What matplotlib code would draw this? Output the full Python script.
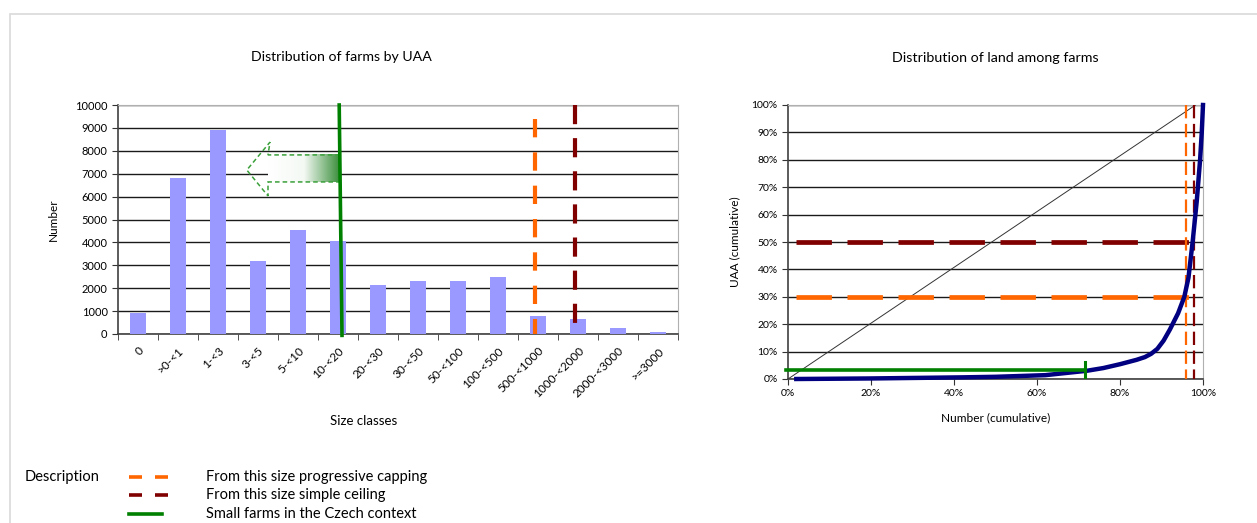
import numpy as np
import matplotlib.pyplot as plt
from matplotlib.colors import LinearSegmentedColormap
from matplotlib.patches import Polygon, Rectangle
from matplotlib.lines import Line2D

plt.rcParams['font.family'] = ['Lato', 'DejaVu Sans']

# left chart: number of farms per size class
size_classes = ['0', '>0-<1', '1-<3', '3-<5', '5-<10', '10-<20', '20-<30', '30-<50',
                '50-<100', '100-<500', '500-<1000', '1000-<2000', '2000-<3000', '>=3000']
farm_counts = [920, 6820, 8920, 3180, 4520, 4060, 2150, 2320, 2320, 2470, 780, 670, 260, 100]

# marker positions on the left chart (category index units)
green_x = [5.03, 5.10]
green_y = [10000, -60]
orange_x = 9.93
orange_y = [9400, 0]
darkred_x = 10.93
darkred_y = [10000, 500]

# arrow outline (dashed) and gradient body
arrow_x = [5.05, 3.25, 3.3, 2.72, 3.25, 3.25, 5.05]
arrow_y = [7820, 7820, 8380, 7160, 6030, 6640, 6640]

# right chart: Lorenz curve of land distribution
cum_number = [0.02, 0.2, 0.42, 0.5, 0.62, 0.72, 0.76, 0.8, 0.84, 0.86, 0.875, 0.89, 0.905,
              0.92, 0.94, 0.955, 0.965, 0.975, 0.985, 0.993, 0.997, 1.0]
cum_uaa = [0.0, 0.002, 0.006, 0.008, 0.014, 0.03, 0.04, 0.054, 0.07, 0.08, 0.092, 0.11, 0.14,
           0.18, 0.24, 0.3, 0.37, 0.5, 0.65, 0.8, 0.9, 1.0]
equality_x = [0.0, 0.982]
equality_y = [0.0, 1.0]
small_farms_x = [-0.005, 0.715]
small_farms_y = 0.033
capping_x = [0.02, 0.975]
capping_y = 0.30
ceiling_x = [0.02, 0.985]
ceiling_y = 0.50
capping_vx = 0.958
ceiling_vx = 0.978

ORANGE = '#ff6600'
DARKRED = '#800000'
GREEN = '#008000'
NAVY = '#000080'
BAR = '#9999ff'

fig = plt.figure(figsize=(12.57, 5.23), dpi=100)

# light frame around the whole sheet
fig.add_artist(Rectangle((10 / 1257, -0.1), 1.2, 1 - 14 / 523 + 0.1, transform=fig.transFigure,
                         fill=False, edgecolor='#d9d9d9', linewidth=1.2))

# ---------------- left chart ----------------
ax1 = fig.add_axes([118 / 1257, 1 - 334 / 523, 560 / 1257, 229 / 523])
x = np.arange(len(size_classes))
ax1.bar(x, farm_counts, width=0.4, color=BAR, zorder=3)
ax1.set_yticks(np.arange(0, 10001, 1000))
ax1.yaxis.grid(True, color='#1a1a1a', linewidth=1.0, zorder=1)
ax1.set_axisbelow(True)
ax1.set_xticks(x)
ax1.set_xticklabels(size_classes, rotation=45, ha='right', va='top', rotation_mode='anchor',
                    fontsize=8.5)
ax1.tick_params(axis='x', length=0, pad=8)
ax1.set_xticks(np.arange(-0.5, len(size_classes), 1), minor=True)
ax1.tick_params(axis='x', which='minor', length=4, color='#333333')
ax1.tick_params(axis='y', labelsize=8, length=4, color='#333333')
for s in ['top', 'right']:
    ax1.spines[s].set_color('#b0b0b0')
for s in ['left', 'bottom']:
    ax1.spines[s].set_color('#404040')
    ax1.spines[s].set_linewidth(1.2)

ax1.plot(green_x, green_y, color=GREEN, linewidth=2.6, zorder=5, clip_on=False)
ax1.plot([orange_x, orange_x], orange_y, color=ORANGE, linewidth=3.0, zorder=5,
         dashes=(4.4, 3.6))
ax1.plot([darkred_x, darkred_x], darkred_y, color=DARKRED, linewidth=3.0, zorder=5,
         dashes=(4.6, 3.35))

# gradient arrow body
cmap = LinearSegmentedColormap.from_list('wg', ['#ffffff', '#f4f9f4', '#3a8f3b'])
grad = np.linspace(0, 1, 256).reshape(1, -1)
ax1.imshow(grad, extent=[arrow_x[1], arrow_x[0], arrow_y[5], arrow_y[0]],
           aspect='auto', cmap=cmap, zorder=4)
ax1.add_patch(Polygon(list(zip(arrow_x, arrow_y)), closed=False, fill=False,
                      edgecolor='#3aa03a', linewidth=1.1, linestyle=(0, (3, 2)), zorder=4))
ax1.set_xlim(-0.5, len(size_classes) - 0.5)
ax1.set_ylim(0, 10000)

ax1.set_ylabel('Number', fontsize=8.5, labelpad=12)
fig.text(364 / 1257, 1 - 421 / 523, 'Size classes', ha='center', va='center', fontsize=9.5)
fig.text(341 / 1257, 1 - 57 / 523, 'Distribution of farms by UAA', ha='center',
         va='center', fontsize=10.2)

# ---------------- right chart ----------------
ax2 = fig.add_axes([788 / 1257, 1 - 379 / 523, 415 / 1257, 274 / 523])
ax2.set_xlim(0, 1)
ax2.set_ylim(0, 1)
ax2.set_yticks(np.arange(0, 1.01, 0.1))
ax2.set_yticklabels([f'{int(round(v * 100))}%' for v in np.arange(0, 1.01, 0.1)])
ax2.set_xticks(np.arange(0, 1.01, 0.2))
ax2.set_xticklabels([f'{int(round(v * 100))}%' for v in np.arange(0, 1.01, 0.2)])
ax2.yaxis.grid(True, color='#1a1a1a', linewidth=1.0)
ax2.set_axisbelow(True)
ax2.tick_params(labelsize=7.5, length=4, color='#333333')
for s in ['top', 'right']:
    ax2.spines[s].set_color('#b0b0b0')
for s in ['left', 'bottom']:
    ax2.spines[s].set_color('#404040')
    ax2.spines[s].set_linewidth(1.2)

ax2.plot(equality_x, equality_y, color='#333333', linewidth=0.7, zorder=3)
ax2.plot(ceiling_x, [ceiling_y] * 2, color=DARKRED, linewidth=3.4, dashes=(7.5, 3.3), zorder=4)
ax2.plot(capping_x, [capping_y] * 2, color=ORANGE, linewidth=3.4, dashes=(7.5, 3.3), zorder=4)
ax2.plot([capping_vx] * 2, [1, 0], color=ORANGE, linewidth=1.6, dashes=(6, 2.5), zorder=4)
ax2.plot([ceiling_vx] * 2, [1, 0], color=DARKRED, linewidth=1.6, dashes=(6, 2.5), zorder=4)
ax2.plot(cum_number, cum_uaa, color=NAVY, linewidth=3.2, zorder=5, clip_on=False,
         solid_joinstyle='round')
ax2.plot(small_farms_x, [small_farms_y] * 2, color=GREEN, linewidth=2.6, zorder=6, clip_on=False)
ax2.plot([small_farms_x[1]] * 2, [0.008, 0.062], color=GREEN, linewidth=2.2, zorder=6)

ax2.set_ylabel('UAA (cumulative)', fontsize=8.5, labelpad=8)
ax2.set_xlabel('Number (cumulative)', fontsize=8.6, labelpad=10)
fig.text(995 / 1257, 1 - 58 / 523, 'Distribution of land among farms', ha='center',
         va='center', fontsize=10.3)

# ---------------- description legend ----------------
fig.text(25 / 1257, 1 - 477 / 523, 'Description', ha='left', va='center', fontsize=10.5)
legend_rows = [
    (477, ORANGE, (3.6, 3.6), 'From this size progressive capping'),
    (495, DARKRED, (3.6, 3.6), 'From this size simple ceiling'),
    (514, GREEN, None, 'Small farms in the Czech context'),
]
for ypx, col, dash, label in legend_rows:
    yf = 1 - ypx / 523
    if dash:
        ln = Line2D([129 / 1257, 168 / 1257], [yf, yf], color=col, linewidth=2.6,
                    dashes=dash, transform=fig.transFigure)
    else:
        ln = Line2D([129 / 1257, 162 / 1257], [yf, yf], color=col, linewidth=2.6,
                    transform=fig.transFigure)
    fig.add_artist(ln)
    fig.text(206 / 1257, yf, label, ha='left', va='center', fontsize=10.5)

fig.savefig('out.png', dpi=100)
